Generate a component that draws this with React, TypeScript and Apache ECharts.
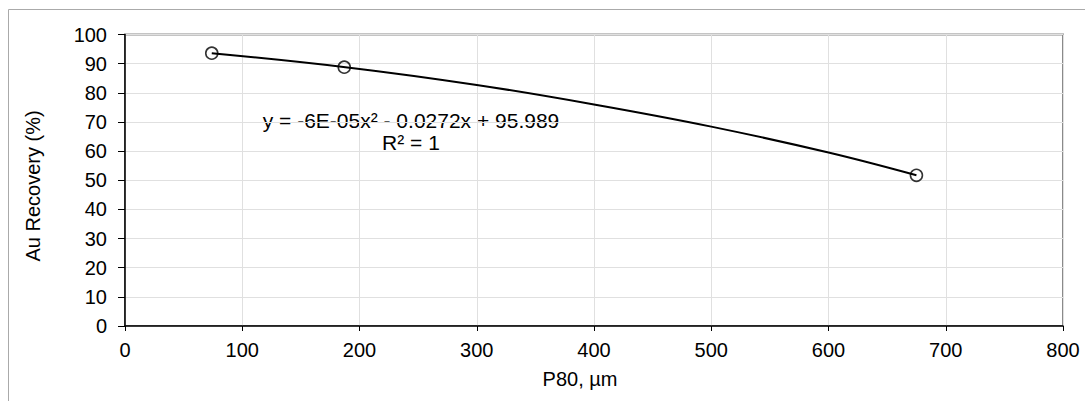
import React, { useEffect, useRef } from "react";
import * as echarts from "echarts";

const pointX = [74, 187, 675];
const pointY = [93.6, 88.8, 51.7];

const trendX = [74, 188, 300, 400, 500, 600, 675];
const trendY = [93.6, 88.8, 82.7, 76.0, 68.4, 59.5, 51.7];

const xTicks = { min: 0, max: 800, interval: 100 };
const yTicks = { min: 0, max: 100, interval: 10 };

const equationText = "y = -6E-05x² - 0.0272x + 95.989\nR² = 1";
const xTitle = "P80, µm";
const yTitle = "Au Recovery (%)";

const FONT = "'Liberation Sans', Arial, Helvetica, sans-serif";

export default function App() {
  const ref = useRef<HTMLDivElement>(null);
  useEffect(() => {
    if (!ref.current) return;
    const chart = echarts.init(ref.current, undefined, { renderer: "svg" });
    const points = pointX.map((x, i) => [x, pointY[i]]);
    const trend = trendX.map((x, i) => [x, trendY[i]]);
    chart.setOption({
      animation: false,
      backgroundColor: "#ffffff",
      textStyle: { fontFamily: FONT },
      grid: {
        left: 125,
        right: 22,
        top: 34.5,
        bottom: 75,
        show: true,
        borderColor: "#8a8a8a",
        borderWidth: 2,
        backgroundColor: "transparent",
      },
      xAxis: {
        type: "value",
        min: xTicks.min,
        max: xTicks.max,
        interval: xTicks.interval,
        axisLine: { show: true, onZero: false, lineStyle: { color: "#000", width: 1.5 } },
        axisTick: { show: true, inside: false, length: 5, lineStyle: { color: "#000" } },
        axisLabel: { color: "#000", fontSize: 20, margin: 14, fontFamily: FONT },
        splitLine: { show: true, lineStyle: { color: "#e0e0e0", width: 1 } },
      },
      yAxis: {
        type: "value",
        min: yTicks.min,
        max: yTicks.max,
        interval: yTicks.interval,
        axisLine: { show: true, onZero: false, lineStyle: { color: "#000", width: 1.5 } },
        axisTick: { show: true, inside: false, length: 7, lineStyle: { color: "#000" } },
        axisLabel: { color: "#000", fontSize: 20, margin: 18, fontFamily: FONT },
        splitLine: { show: true, lineStyle: { color: "#e0e0e0", width: 1 } },
      },
      series: [
        {
          type: "line",
          data: trend,
          smooth: 0.4,
          showSymbol: false,
          symbol: "none",
          lineStyle: { color: "#000", width: 2 },
          z: 2,
        },
        {
          type: "scatter",
          data: points,
          symbol: "circle",
          symbolSize: 12,
          itemStyle: { color: "rgba(255,255,255,0)", borderColor: "#000", borderWidth: 1.6 },
          z: 3,
        },
      ],
      graphic: [
        {
          type: "rect",
          shape: { x: 8.5, y: 9.5, width: 1200, height: 500 },
          style: { fill: "none", stroke: "#aaaaaa", lineWidth: 1 },
          silent: true,
          z: -10,
        },
        {
          type: "text",
          x: 411,
          y: 131,
          style: {
            text: equationText,
            fontSize: 21,
            fontFamily: FONT,
            fill: "#000",
            align: "center",
            verticalAlign: "middle",
            lineHeight: 22,
          },
        },
        {
          type: "text",
          x: 580,
          y: 379,
          style: {
            text: xTitle,
            fontSize: 20,
            fontFamily: FONT,
            fill: "#000",
            align: "center",
            verticalAlign: "middle",
          },
        },
        {
          type: "text",
          x: 33,
          y: 186,
          rotation: Math.PI / 2,
          style: {
            text: yTitle,
            fontSize: 20,
            fontFamily: FONT,
            fill: "#000",
            align: "center",
            verticalAlign: "middle",
          },
        },
      ],
    });
    return () => chart.dispose();
  }, []);
  return (
    <div
      ref={ref}
      style={{ position: "fixed", left: 0, top: 0, width: 1085, height: 401 }}
    />
  );
}
